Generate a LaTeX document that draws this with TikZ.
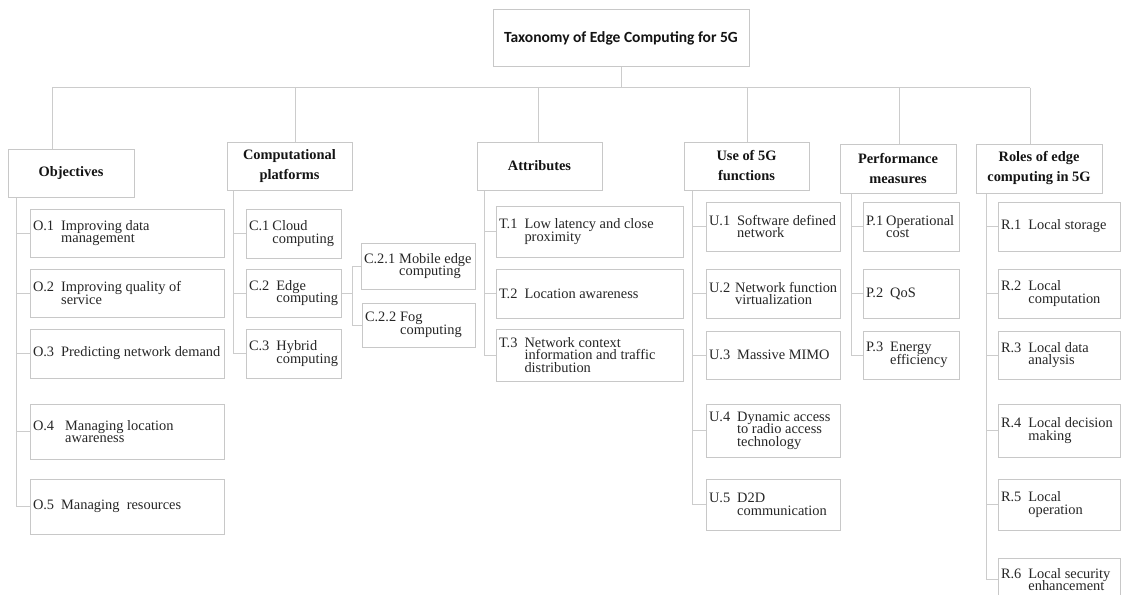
\documentclass[tikz,border=0pt]{standalone}
\usepackage{fontspec}
\setmainfont{Liberation Serif}
\newfontfamily\rootfont{Carlito}
\definecolor{boxgray}{HTML}{C8C8C8}
\definecolor{linegray}{HTML}{CCCCCC}
\definecolor{txt}{HTML}{262626}
\definecolor{headtxt}{HTML}{141414}
\tikzset{
  frame/.style={draw=boxgray, line width=1pt, rectangle, inner sep=0pt},
  itemframe/.style={frame, inner xsep=3pt, text=txt},
  headframe/.style={frame, align=center, text=headtxt, font=\fontsize{14.4}{20}\selectfont\bfseries},
  link/.style={draw=linegray, line width=1pt},
}
\newcommand{\itemtext}[3]{\fontsize{14.4}{12.6}\selectfont\lineskiplimit=-\maxdimen\rightskip=0pt plus 1fil\relax
  \setbox0=\hbox{#2\hspace{#1}}\hangindent=\wd0\hangafter=1\noindent\box0 #3}
\newcommand{\itembox}[8][7pt]{%
  \pgfmathsetmacro\bw{#5-#3}\pgfmathsetmacro\bh{#6-#4}\pgfmathsetmacro\tw{#5-#3-6}%
  \node[itemframe, minimum width=\bw pt, minimum height=\bh pt] (#2) at ({(#3+#5)/2},{(#4+#6)/2})
    {\parbox{\tw pt}{\itemtext{#1}{#7}{#8}}};}
\newcommand{\headbox}[6]{%
  \pgfmathsetmacro\bw{#4-#2}\pgfmathsetmacro\bh{#5-#3}%
  \node[headframe, minimum width=\bw pt, minimum height=\bh pt] (#1) at ({(#2+#4)/2},{(#3+#5)/2}) {#6};}
\begin{document}
\begin{tikzpicture}[x=1pt, y=-1pt]
\useasboundingbox (0,0) rectangle (1121,594);
\fill[white] (0,0) rectangle (1121,594);

% root
\node[frame, text=headtxt, font=\rootfont\fontsize{15.5}{18}\selectfont\bfseries,
      minimum width=256pt, minimum height=57pt] (root) at (621,38.5) {Taxonomy of Edge Computing for 5G};

% categories
\headbox{obj}{8}{149}{134}{197}{Objectives}
\headbox{comp}{227}{142}{352}{190}{Computational\\platforms}
\headbox{attr}{477}{142}{602}{190}{Attributes}
\headbox{use}{684}{142}{809}{190}{Use of 5G\\functions}
\headbox{perf}{840}{144}{956}{193}{Performance\\measures}
\headbox{roles}{976}{144}{1102}{193}{Roles of edge\\computing in 5G}

% objectives
\itembox{o1}{30}{209}{224}{257}{O.1}{Improving data\newline management}
\itembox{o2}{30}{269}{224}{317}{O.2}{Improving quality of\newline service}
\itembox{o3}{30}{329}{224}{378}{O.3}{Predicting network demand}
\itembox[11pt]{o4}{30}{404}{224}{459}{O.4}{Managing location\newline awareness}
\itembox{o5}{30}{479}{224}{534}{O.5}{Managing\ \ resources}

% computational platforms
\itembox[3pt]{c1}{246}{209}{341}{258}{C.1}{Cloud\newline computing}
\itembox{c2}{246}{269}{341}{317}{C.2}{Edge\newline computing}
\itembox{c3}{246}{329}{341}{378}{C.3}{Hybrid\newline computing}
\itembox[4pt]{c21}{361}{243}{475}{289}{C.2.1}{\mbox{Mobile edge}\newline computing}
\itembox[4pt]{c22}{362}{303}{475}{347}{C.2.2}{Fog\newline computing}

% attributes
\itembox{t1}{496}{206}{683}{257}{T.1}{Low latency and close\newline proximity}
\itembox{t2}{496}{269}{683}{318}{T.2}{Location awareness}
\itembox{t3}{496}{329}{683}{381}{T.3}{Network context\newline information and traffic\newline distribution}

% use of 5G functions
\itembox{u1}{706}{202}{840}{251}{U.1}{\mbox{Software defined}\newline network}
\itembox[5pt]{u2}{706}{269}{840}{318}{U.2}{\mbox{Network function}\newline virtualization}
\itembox{u3}{706}{331}{840}{379}{U.3}{Massive MIMO}
\itembox{u4}{706}{404}{840}{457}{U.4}{\mbox{Dynamic access}\newline to radio access\newline technology}
\itembox{u5}{706}{479}{840}{530}{U.5}{D2D\newline communication}

% performance measures
\itembox[3pt]{p1}{863}{202}{959}{251}{P.1}{\mbox{Operational}\newline cost}
\itembox{p2}{863}{269}{959}{318}{P.2}{QoS}
\itembox{p3}{863}{331}{959}{379}{P.3}{Energy\newline efficiency}

% roles
\itembox{r1}{998}{202}{1120}{251}{R.1}{Local storage}
\itembox{r2}{998}{269}{1120}{318}{R.2}{Local\newline computation}
\itembox{r3}{998}{331}{1120}{379}{R.3}{Local data\newline analysis}
\itembox{r4}{998}{404}{1120}{457}{R.4}{\mbox{Local decision}\newline making}
\itembox{r5}{998}{479}{1120}{530}{R.5}{Local\newline operation}
\itembox{r6}{998}{558}{1120}{601}{R.6}{\mbox{Local security}\newline enhancement}

% bus
\coordinate (bus) at (621,87.5);
\coordinate (dO) at (52,87.5);
\coordinate (dC) at (295,87.5);
\coordinate (dT) at (538,87.5);
\coordinate (dU) at (747,87.5);
\coordinate (dP) at (899,87.5);
\coordinate (dR) at (1030,87.5);
\draw[link] (root.south) -- (bus);
\draw[link] (dO) -- (dR);
\foreach \d/\n in {dO/obj, dC/comp, dT/attr, dU/use, dP/perf, dR/roles}
  \draw[link] (\d) -- (\d |- \n.north);

% trunks
\coordinate (tO) at ([xshift=9pt]obj.south west);
\coordinate (tC) at ([xshift=7pt]comp.south west);
\coordinate (tT) at ([xshift=8pt]attr.south west);
\coordinate (tU) at ([xshift=9pt]use.south west);
\coordinate (tP) at ([xshift=12pt]perf.south west);
\coordinate (tR) at ([xshift=11pt]roles.south west);
\foreach \n in {o1,o2,o3,o4,o5} \draw[link] (tO) |- (\n.west);
\foreach \n in {c1,c2,c3} \draw[link] (tC) |- (\n.west);
\foreach \n in {t1,t2,t3} \draw[link] (tT) |- (\n.west);
\foreach \n in {u1,u2,u3,u4,u5} \draw[link] (tU) |- (\n.west);
\foreach \n in {p1,p2,p3} \draw[link] (tP) |- (\n.west);
\foreach \n in {r1,r2,r3,r4,r5,r6} \draw[link] (tR) |- (\n.west);

% edge computing sub-branch
\coordinate (j) at ([xshift=11pt]c2.east);
\draw[link] (c2.east) -- (j);
\draw[link] (c21.west) -| (j);
\draw[link] (c22.west) -| (j);
\end{tikzpicture}
\end{document}
